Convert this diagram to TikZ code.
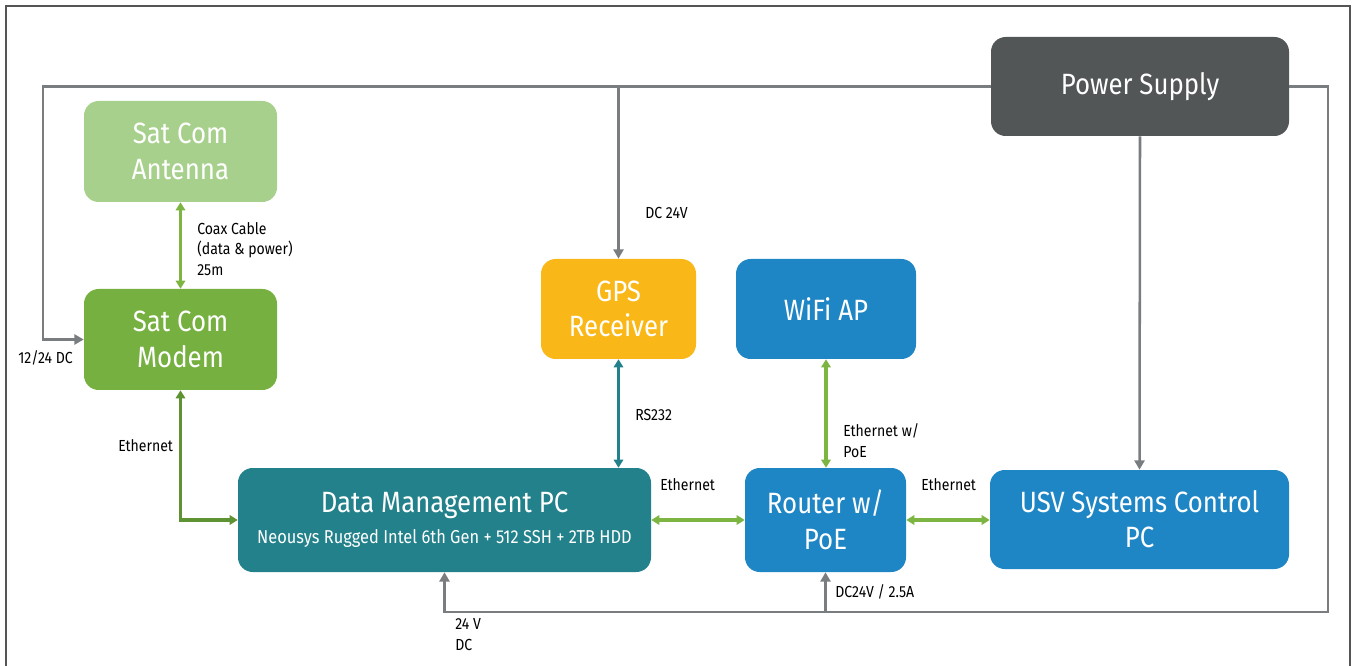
\documentclass[tikz,border=0pt]{standalone}
\usepackage{fontspec}
\setmainfont{Fira Sans}[FakeStretch=0.88]
\usetikzlibrary{arrows.meta}
\definecolor{antgreen}{HTML}{A8D08D}
\definecolor{modgreen}{HTML}{76B041}
\definecolor{psgray}{HTML}{535657}
\definecolor{gpsyel}{HTML}{F9B818}
\definecolor{boxblue}{HTML}{1F86C5}
\definecolor{dmteal}{HTML}{22818A}
\definecolor{linegreen}{HTML}{7DB543}
\definecolor{darkgreen}{HTML}{5E9334}
\definecolor{linegray}{HTML}{7A7D80}
\definecolor{framegray}{HTML}{555555}
\tikzset{
  box/.style={rounded corners=11pt, inner sep=0pt, align=center, text=white,
    font=\fontsize{22}{26.5}\selectfont},
  lbl/.style={anchor=west, inner sep=0pt, align=left, text=black,
    font=\fontsize{12}{15.6}\selectfont},
  tip/.style={-{Triangle[length=7pt,width=7.5pt]}},
  dtip/.style={{Triangle[length=6pt,width=7pt]}-{Triangle[length=6pt,width=7pt]}},
  pwr/.style={draw=linegray, line width=1.9pt},
  eth/.style={draw=linegreen, line width=2.8pt, dtip},
}
\begin{document}
\begin{tikzpicture}[x=0.75pt,y=-0.75pt]
\useasboundingbox (0,0) rectangle (1356,666);
\draw[framegray, line width=1.2pt] (6,667) -- (6,6) -- (1350,6) -- (1350,667);

% boxes
\node[box, fill=antgreen, minimum width=144.75pt, minimum height=75.75pt] (ant) at (180.5,151.5) {Sat Com\\Antenna};
\node[box, fill=modgreen, minimum width=144.75pt, minimum height=75.75pt] (mod) at (180.5,339.5) {Sat Com\\Modem};
\node[box, fill=psgray, minimum width=223.5pt, minimum height=74.25pt] (ps) at (1140,86.5) {Power Supply};
\node[box, fill=gpsyel, minimum width=116.25pt, minimum height=75pt] (gps) at (618.5,309) {GPS\\Receiver};
\node[box, fill=boxblue, minimum width=135pt, minimum height=75pt] (wifi) at (826,309) {WiFi AP};
\node[box, fill=dmteal, minimum width=309.75pt, minimum height=78pt] (dm) at (444.5,520)
  {Data Management PC\\[-3pt]{\fontsize{14}{15}\selectfont Neousys Rugged Intel 6th Gen + 512 SSH + 2TB HDD}};
\node[box, fill=boxblue, minimum width=120.75pt, minimum height=78pt] (rt) at (825.5,520) {Router w/\\PoE};
\node[box, fill=boxblue, minimum width=224.25pt, minimum height=74.25pt] (usv) at (1139.5,519.5) {USV Systems Control\\PC};

% power coordinates
\coordinate (pl) at (43,86.5);
\coordinate (pr) at (1328,86.5);
\coordinate (pb) at (1328,612);

% power lines
\draw[pwr, tip] (ps.west) -- (pl) |- (mod.west);
\draw[pwr, tip] (gps.north |- ps.west) -- (gps.north);
\draw[pwr, tip] (ps.south) -- (usv.north);
\draw[pwr, tip] (ps.east) -- (pr) -- (pb) -| (dm.south);
\draw[pwr, tip] (rt.south |- pb) -- (rt.south);

% data lines
\draw[eth] (ant.south) -- (mod.north);
\draw[draw=darkgreen, line width=2.8pt, dtip] (mod.south) |- (dm.west);
\draw[draw=dmteal, line width=2.8pt, dtip] (gps.south) -- (gps.south |- dm.north);
\draw[eth] (wifi.south) -- (wifi.south |- rt.north);
\draw[eth] (dm.east) -- (rt.west);
\draw[eth] (rt.east) -- (rt.east -| usv.west);

% labels
\node[lbl] (l1) at (18,358) {12/24 DC};
\node[lbl] (l2) at (197,249) {Coax Cable\\(data \& power)\\25m};
\node[lbl] (l3) at (118,446) {Ethernet};
\node[lbl] (l4) at (645,213) {DC 24V};
\node[lbl] (l5) at (635,415) {RS232};
\node[lbl] (l6) at (843,440.5) {Ethernet w/\\PoE};
\node[lbl] (l7) at (660,485) {Ethernet};
\node[lbl] (l8) at (921,485) {Ethernet};
\node[lbl] (l9) at (835,592) {DC24V / 2.5A};
\node[lbl] (l10) at (455,634.5) {24 V\\DC};
\end{tikzpicture}
\end{document}
